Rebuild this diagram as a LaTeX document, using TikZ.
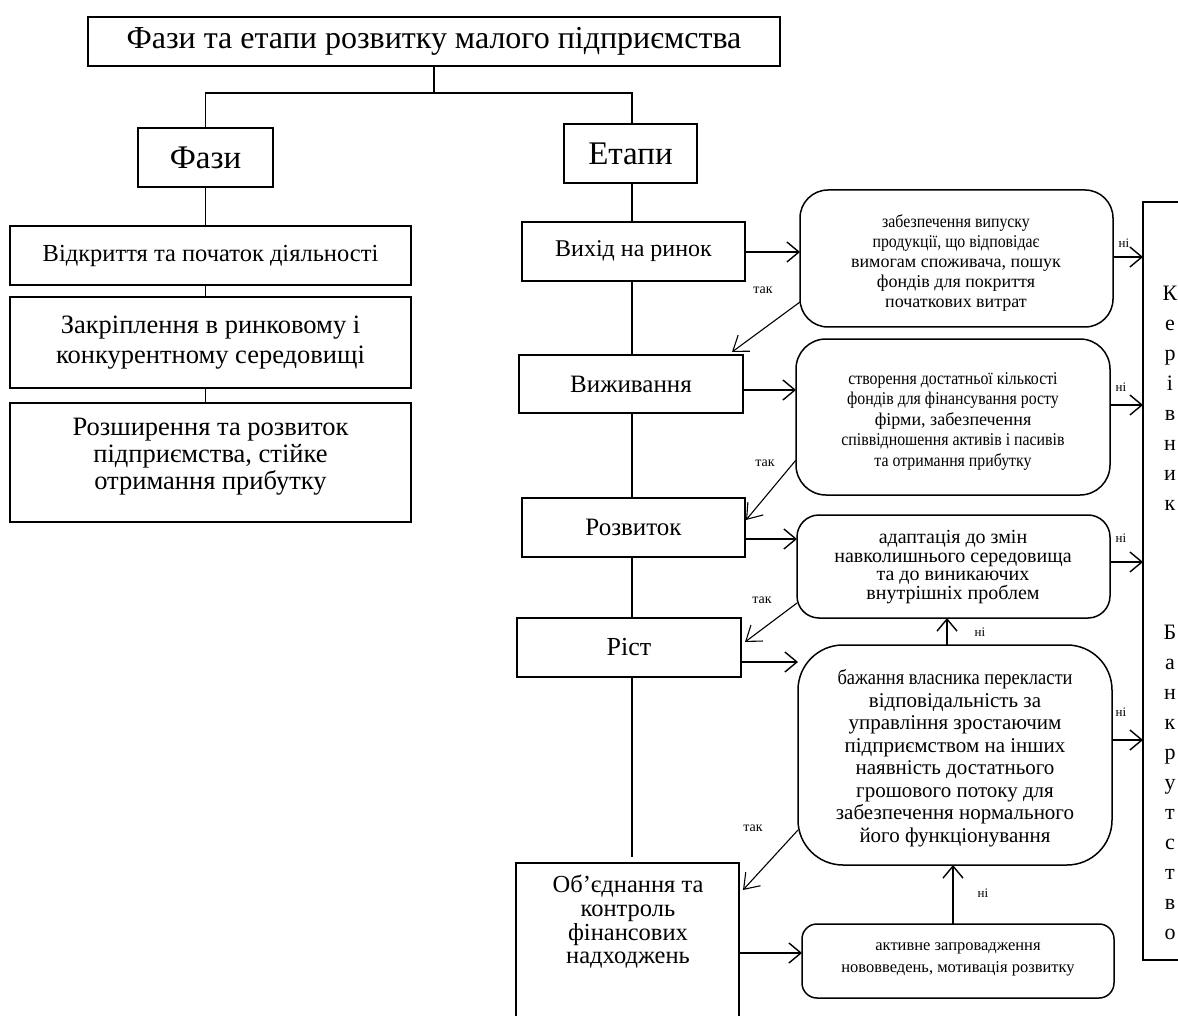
\documentclass[tikz,border=0pt]{standalone}
\usepackage{fontspec}
\setmainfont{Liberation Serif}
\newfontfamily\cnd[FakeStretch=0.88]{Liberation Serif}
\usetikzlibrary{arrows.meta,calc}
\newcommand\fsz[2]{\fontsize{#1}{#2}\selectfont}
\begin{document}
\begin{tikzpicture}[x=1pt,y=-1pt,
  box/.style={draw, line width=1.5pt, inner sep=0pt, outer sep=0pt, align=center},
  rbox/.style={box, rounded corners=#1},
  txt/.style={inner sep=0pt, outer sep=0pt, align=center},
  conn/.style={line width=1.5pt},
  arr/.style={line width=1.4pt, -{Straight Barb[length=12pt,width=20pt,line width=1.4pt]}},
  tarr/.style={line width=1.1pt, -{Straight Barb[length=14pt,width=20pt,line width=1.1pt]}},
  lbl/.style={inner sep=0pt, font=\fsz{14}{16}}]
\useasboundingbox (0,0) rectangle (1178,1016);
\clip (0,0) rectangle (1178,1016);
\fill[white] (0,0) rectangle (1178,1016);
% left column
\node[box, minimum width=692pt, minimum height=49pt, font=\fsz{32}{36}] (title) at (434,41.5) {Фази та етапи розвитку малого підприємства};
\node[box, minimum width=135pt, minimum height=59pt, font=\fsz{33}{38}] (fazy) at (205.5,157.5) {Фази};
\node[box, minimum width=133pt, minimum height=59pt, font=\fsz{33}{38}] (etapy) at (630.5,153.5) {Етапи};
\node[box, minimum width=401pt, minimum height=59pt, font=\fsz{24.5}{28}] (vidkr) at (210.5,255.5) {Відкриття та початок діяльності};
\node[box, minimum width=401pt, minimum height=91pt, font=\fsz{26.5}{30}] (zakr) at (210.5,342.5) {Закріплення в ринковому і\\конкурентному середовищі};
\node[box, minimum width=401pt, minimum height=119pt] (rozsh) at (210.5,462.5) {};
\node[txt, font=\fsz{26.5}{27}] (rozsht) at (210.5,457) {Розширення та розвиток\\підприємства, стійке\\отримання прибутку};
% stages
\node[box, minimum width=223pt, minimum height=59pt, font=\fsz{24}{28}] (vyhid) at (633.5,251.5) {Вихід на ринок};
\node[box, minimum width=224pt, minimum height=58pt, font=\fsz{25}{28}] (vyzh) at (631,384) {Виживання};
\node[box, minimum width=223pt, minimum height=59pt, font=\fsz{25}{28}] (rozv) at (633.5,527.5) {Розвиток};
\node[box, minimum width=224pt, minimum height=59pt, font=\fsz{26}{28}] (rist) at (629,647.5) {Ріст};
\node[box, minimum width=223pt, minimum height=177pt] (obied) at (627.5,951.5) {};
\node[txt, font=\fsz{24.5}{23.7}] (obiedt) at (628,922) {Об’єднання та\\контроль\\фінансових\\надходжень};
% rounded boxes
\node[rbox=28pt, minimum width=313pt, minimum height=137pt] (r1) at (956.5,258.5) {};
\node[txt, font=\fsz{18}{20}] (r1t) at (956,263) {{\cnd забезпечення випуску}\\{\cnd продукції, що відповідає}\\вимогам споживача, пошук\\фондів для покриття\\початкових витрат};
\node[rbox=30pt, minimum width=314pt, minimum height=156pt] (r2) at (953,417) {};
\node[txt, font=\fsz{18}{20.5}] (r2t) at (953,421) {{\cnd створення достатньої кількості}\\{\cnd фондів для фінансування росту}\\фірми, забезпечення\\{\cnd співвідношення активів і пасивів}\\{\cnd та отримання прибутку}};
\node[rbox=22pt, minimum width=313pt, minimum height=103pt] (r3) at (953.5,566.5) {};
\node[txt, font=\fsz{20}{18.5}] (r3t) at (953,567) {адаптація до змін\\навколишнього середовища\\та до виникаючих\\внутрішніх проблем};
\node[rbox=45pt, minimum width=314pt, minimum height=220pt] (r4) at (955,755) {};
\node[txt, font=\fsz{21}{22.5}] (r4t) at (955,758) {{\cnd бажання власника перекласти}\\відповідальність за\\управління зростаючим\\підприємством на інших\\наявність достатнього\\грошового потоку для\\забезпечення нормального\\його функціонування};
\node[rbox=15pt, minimum width=312pt, minimum height=74pt] (r5) at (958,961) {};
\node[txt, font=\fsz{16.5}{22}] (r5t) at (958,959) {активне запровадження\\нововведень, мотивація розвитку};
% big right box
\node[box, minimum width=87pt, minimum height=758pt] (big) at (1186.5,581) {};
\node[txt, font=\fsz{22}{30}] (ker) at (1170,398) {К\\е\\р\\і\\в\\н\\и\\к};
\node[txt, font=\fsz{22}{30}] (bank) at (1170,782) {Б\\а\\н\\к\\р\\у\\т\\с\\т\\в\\о};
% tree connectors
\coordinate (hl) at (205.5,93);
\coordinate (hr) at (632,93);
\draw[conn] (title.south) -- (title.south |- hl);
\draw[conn] (fazy.north) -- (fazy.north |- hl) -- (hr) -- (etapy.north -| hr);
\draw[conn] (fazy.south) -- (fazy.south |- vidkr.north);
\draw[conn] (fazy.south |- vidkr.south) -- (fazy.south |- zakr.north);
\draw[conn] (fazy.south |- zakr.south) -- (fazy.south |- rozsh.north);
\draw[conn] (etapy.south -| hr) -- (hr |- vyhid.north);
\draw[conn] (hr |- vyhid.south) -- (hr |- vyzh.north);
\draw[conn] (hr |- vyzh.south) -- (hr |- rozv.north);
\draw[conn] (hr |- rozv.south) -- (hr |- rist.north);
\draw[conn] (hr |- rist.south) -- ($(hr |- obied.north)+(0,-6)$);
% arrows stage -> condition
\draw[arr] (vyhid.east |- 0,252) -- (r1.west |- 0,252);
\draw[arr] (vyzh.east |- 0,390) -- (r2.west |- 0,390);
\draw[arr] (rozv.east |- 0,539) -- (r3.west |- 0,539);
\draw[arr] (rist.east |- 0,662) -- (r4.west |- 0,662);
\draw[arr] (obied.east |- 0,953) -- (r5.west |- 0,953);
% yes arrows
\draw[tarr] (r1.west |- 0,302) -- ($(vyzh.north east)+(-11,-3)$);
\draw[tarr] (r2.west |- 0,460) -- ($(rozv.north east)+(1,22)$);
\draw[tarr] (r3.west |- 0,603) -- ($(rist.north east)+(4,24)$);
\draw[tarr] (r4.west |- 0,830) -- ($(obied.north east)+(4,27)$);
\node[lbl] (t1) at (763,290) {так};
\node[lbl] (t2) at (765,463) {так};
\node[lbl] (t3) at (762,600) {так};
\node[lbl] (t4) at (753,828) {так};
% up arrows
\draw[arr] (953,0 |- r5.north) -- (953,0 |- r4.south);
\draw[arr] (947,0 |- r4.north) -- (947,0 |- r3.south);
\node[lbl, font=\fsz{13}{15}] (n5) at (983,893) {ні};
\node[lbl, font=\fsz{13}{15}] (n6) at (980,632) {ні};
% no arrows to the right box
\draw[arr] (r1.east |- 0,257) -- (big.west |- 0,257);
\draw[arr] (r2.east |- 0,405) -- (big.west |- 0,405);
\draw[arr] (r3.east |- 0,562) -- (big.west |- 0,562);
\draw[arr] (r4.east |- 0,740) -- (big.west |- 0,740);
\node[lbl, font=\fsz{13}{15}] (n1) at (1124,243) {ні};
\node[lbl, font=\fsz{13}{15}] (n2) at (1121,387) {ні};
\node[lbl, font=\fsz{13}{15}] (n3) at (1121,538) {ні};
\node[lbl, font=\fsz{13}{15}] (n4) at (1121,712) {ні};
\end{tikzpicture}
\end{document}
